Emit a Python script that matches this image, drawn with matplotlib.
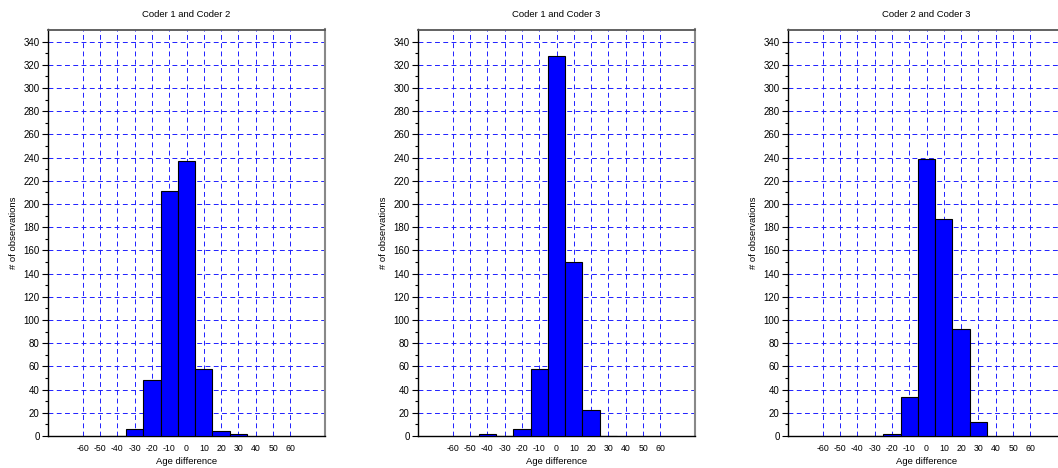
import matplotlib
matplotlib.use("Agg")
import matplotlib.pyplot as plt
import numpy as np

plt.rcParams['font.family'] = ['Liberation Sans', 'DejaVu Sans']

titles = ["Coder 1 and Coder 2", "Coder 1 and Coder 3", "Coder 2 and Coder 3"]
bin_centers = [-40, -30, -20, -10, 0, 10, 20, 30]
counts_12 = [0, 6, 48, 211, 237, 58, 4, 2]
counts_13 = [2, 0, 6, 58, 328, 150, 22, 0]
counts_23 = [0, 0, 2, 34, 239, 187, 92, 12]
all_counts = [counts_12, counts_13, counts_23]
x_ticks = [-60, -50, -40, -30, -20, -10, 0, 10, 20, 30, 40, 50, 60]
y_ticks = list(range(0, 341, 20))
bin_width = 10

fig = plt.figure(figsize=(10.58, 4.68), dpi=100)
W, H = 1058.0, 468.0
lefts = [48, 418, 788]
for i, (title, counts) in enumerate(zip(titles, all_counts)):
    ax = fig.add_axes([lefts[i] / W, 32 / H, 277 / W, 406.5 / H])
    ax.set_xlim(-80, 80)
    ax.set_ylim(0, 350.5)
    ax.set_axisbelow(True)
    ax.grid(True, color="#2020ff", linestyle=(0, (5, 3.5)), linewidth=0.7)
    ax.set_xticks(x_ticks)
    ax.set_yticks(y_ticks)
    ax.set_yticks(list(range(10, 350, 20)), minor=True)
    ax.tick_params(axis="y", which="major", labelsize=7, direction="out",
                   length=4, width=0.8, colors="black", pad=2)
    ax.tick_params(axis="y", which="minor", direction="out", length=2.5, width=0.8)
    ax.tick_params(axis="x", which="major", labelsize=6.3, length=0, pad=6)
    ax.set_xticklabels([str(t) for t in x_ticks])
    ax.bar(bin_centers, counts, width=bin_width, color="#0000ff",
           edgecolor="black", linewidth=0.8, zorder=3)
    for s in ["left", "bottom"]:
        ax.spines[s].set_color("black")
        ax.spines[s].set_linewidth(1.0)
    ax.spines["top"].set_color("#555555")
    ax.spines["top"].set_linewidth(1.3)
    ax.spines["right"].set_color("#888888")
    ax.spines["right"].set_linewidth(1.5)
    ax.set_title(title, fontsize=6.8, pad=9)
    ax.set_xlabel("Age difference", fontsize=6.8, labelpad=3)
    ax.set_ylabel("# of observations", fontsize=6.8, labelpad=4)

fig.savefig("out.png", dpi=100, facecolor="white")
